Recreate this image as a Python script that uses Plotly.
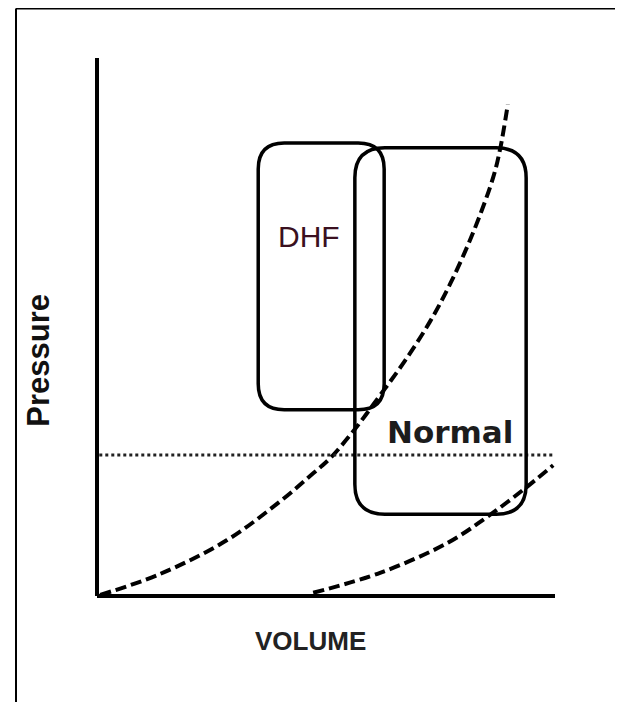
import plotly.graph_objects as go

# ---- data (volume, pressure in arbitrary units) ----
curve_dhf_vol = [0.7, 13.8, 28.4, 40.0, 47.2, 50.9, 56.3, 61.8, 67.3, 72.7, 77.1, 82.1, 86.5, 88.0, 89.7]
curve_dhf_pres = [0.2, 4.1, 10.4, 17.6, 22.8, 25.6, 31.0, 37.3, 43.8, 51.0, 58.0, 67.5, 77.8, 83.0, 91.4]

curve_norm_vol = [47.2, 61.8, 76.4, 85.2, 93.0, 99.6]
curve_norm_pres = [0.6, 4.3, 9.8, 14.7, 19.7, 24.3]

dotted_vol = [0.5, 100.0]
dotted_pres = [26.2, 26.2]

# rounded boxes: [vol_min, vol_max, pres_min, pres_max]
box_dhf = [35.2, 62.7, 34.6, 84.2]
box_normal = [56.3, 93.7, 15.2, 83.3]

axis_vol = [0, 100]
axis_pres = [0, 100]

labels = {"dhf": "DHF", "normal": "Normal", "x": "VOLUME", "y": "Pressure"}

# ---- scale (pixels per unit) ----
PX_X = 4.58
PX_Y = 5.38
W, H = 623, 702
OFF = 8  # page body margin
OX, OY = 97 - OFF, 596 - OFF  # origin pixel inside the figure

xr = [-OX / PX_X, (W - OX) / PX_X]
yr = [(OY - H) / PX_Y, OY / PX_Y]


def rounded_path(b, r_px):
    x0, x1, y0, y1 = b
    rx = r_px / PX_X
    ry = r_px / PX_Y
    return (f"M {x0+rx},{y1} L {x1-rx},{y1} Q {x1},{y1} {x1},{y1-ry} "
            f"L {x1},{y0+ry} Q {x1},{y0} {x1-rx},{y0} "
            f"L {x0+rx},{y0} Q {x0},{y0} {x0},{y0+ry} "
            f"L {x0},{y1-ry} Q {x0},{y1} {x0+rx},{y1} Z")


fig = go.Figure()

# axes
fig.add_trace(go.Scatter(x=[axis_vol[0], axis_vol[0]], y=[axis_pres[0], axis_pres[1]],
                         mode="lines", line=dict(color="black", width=4), hoverinfo="skip"))
fig.add_trace(go.Scatter(x=[axis_vol[0], axis_vol[1]], y=[axis_pres[0], axis_pres[0]],
                         mode="lines", line=dict(color="black", width=4), hoverinfo="skip"))

# curves
fig.add_trace(go.Scatter(x=curve_dhf_vol, y=curve_dhf_pres, mode="lines",
                         line=dict(color="black", width=4, dash="11px,5px", shape="spline", smoothing=1.0),
                         hoverinfo="skip"))
fig.add_trace(go.Scatter(x=curve_norm_vol, y=curve_norm_pres, mode="lines",
                         line=dict(color="black", width=4, dash="11px,5px", shape="spline", smoothing=1.0),
                         hoverinfo="skip"))
fig.add_trace(go.Scatter(x=dotted_vol, y=dotted_pres, mode="lines",
                         line=dict(color="#222222", width=3, dash="3px,3px"), hoverinfo="skip"))

bx = (16 - OFF) / W
by = 1 - (8.5 - OFF) / H
shapes = [
    dict(type="path", path=rounded_path(box_dhf, 26), xref="x", yref="y",
         line=dict(color="black", width=3.5)),
    dict(type="path", path=rounded_path(box_normal, 30), xref="x", yref="y",
         line=dict(color="black", width=3.5)),
    # picture border (top and left)
    dict(type="line", xref="paper", yref="paper", x0=bx, x1=1, y0=by, y1=by,
         line=dict(color="black", width=2)),
    dict(type="line", xref="paper", yref="paper", x0=bx, x1=bx, y0=0, y1=by,
         line=dict(color="black", width=2)),
]

annotations = [
    dict(x=(box_dhf[0] + box_dhf[1]) / 2 - 2.6, y=66.9, text=labels["dhf"], showarrow=False,
         font=dict(family="Liberation Sans, Arial", size=30, color="#3a1020"), xref="x", yref="y"),
    dict(x=77.0, y=30.4, text="<b>" + labels["normal"] + "</b>", showarrow=False,
         font=dict(family="DejaVu Sans", size=31, color="#1c1c1c"), xref="x", yref="y"),
    dict(x=-12.7, y=43.9, text="<b>" + labels["y"] + "</b>", showarrow=False, textangle=-90,
         font=dict(family="Liberation Sans, Arial", size=31, color="#111111"), xref="x", yref="y"),
    dict(x=46.7, y=-8.4, text="<b>" + labels["x"] + "</b>", showarrow=False,
         font=dict(family="Liberation Sans, Arial", size=26, color="#222222"), xref="x", yref="y"),
]

fig.update_layout(
    width=W, height=H,
    margin=dict(l=0, r=0, t=0, b=0),
    paper_bgcolor="white", plot_bgcolor="white",
    showlegend=False,
    shapes=shapes, annotations=annotations,
    xaxis=dict(range=xr, visible=False, fixedrange=True),
    yaxis=dict(range=yr, visible=False, fixedrange=True),
)

fig.write_html("out.html", config={"displayModeBar": False})
